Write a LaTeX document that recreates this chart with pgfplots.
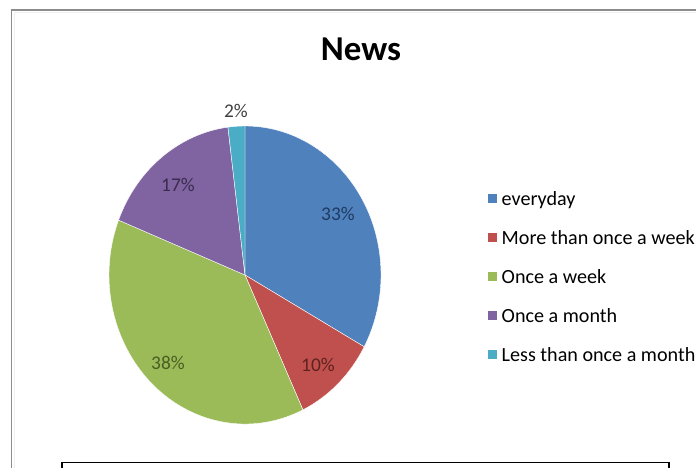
\documentclass[border=0pt]{standalone}
\usepackage{fontspec}
\setmainfont{Carlito}
\usepackage{pgfplots}
\usepackage{pgfplotstable}
\pgfplotsset{compat=1.18}

\definecolor{pie0}{HTML}{4F81BD}
\definecolor{pie1}{HTML}{C0504D}
\definecolor{pie2}{HTML}{9BBB59}
\definecolor{pie3}{HTML}{8064A2}
\definecolor{pie4}{HTML}{4BACC6}
\definecolor{lab0}{HTML}{1F3B63}
\definecolor{lab1}{HTML}{5E2220}
\definecolor{lab2}{HTML}{4A5E22}
\definecolor{lab3}{HTML}{3A2C4E}
\definecolor{lab4}{HTML}{404040}
\definecolor{framegray}{HTML}{8C8C8C}

% share (%)  and label position (canvas units = bp)
\pgfplotstableread{
idx value lx  ly
0   33    338 254
1   10    318 103
2   38    168 105
3   17    178 283
4   2     236 357
}\pietable

\begin{document}
\begin{tikzpicture}
\useasboundingbox (0,0) rectangle (696bp,468bp);
\begin{axis}[
  at={(0,0)}, anchor=south west,
  width=696bp, height=468bp, scale only axis,
  xmin=0, xmax=696, ymin=0, ymax=468,
  hide axis, clip=false,
  legend style={
    at={(axis cs:485,189)}, anchor=west,
    draw=none, fill=none,
    font=\fontsize{20.2}{23}\selectfont,
    row sep=22bp, column sep=5bp,
    nodes={inner sep=0pt, text height=13bp, text depth=4bp},
  },
  legend cell align=left,
  legend image code/.code={\fill[#1] (0bp,-2bp) rectangle (8.5bp,6.5bp);},
]
% pie wedges from the table
\pgfmathsetmacro\cum{90}
\pgfplotsforeachungrouped \i in {0,...,4}{%
  \pgfplotstablegetelem{\i}{value}\of\pietable
  \pgfmathsetmacro\startang{\cum}%
  \pgfmathsetmacro\endang{\cum-3.6*\pgfplotsretval}%
  \let\cum\endang
  \edef\temp{\noexpand\fill[fill=pie\i, draw=white, line width=0.4bp]
    (axis cs:245,193) -- (axis cs:{245+136*cos(\startang)},{193+149*sin(\startang)})
    arc[start angle=\startang, end angle=\endang, x radius=136, y radius=149] -- cycle;}%
  \temp
}
% data labels from the table
\pgfplotsforeachungrouped \i in {0,...,4}{%
  \pgfplotstablegetelem{\i}{value}\of\pietable \let\v\pgfplotsretval
  \pgfplotstablegetelem{\i}{lx}\of\pietable \let\lx\pgfplotsretval
  \pgfplotstablegetelem{\i}{ly}\of\pietable \let\ly\pgfplotsretval
  \edef\temp{\noexpand\node[text=lab\i, font=\noexpand\fontsize{19.5}{22}\noexpand\selectfont, inner sep=0pt]
    at (axis cs:\lx,\ly) {\v\noexpand\%};}%
  \temp
}
\addlegendimage{fill=pie0, draw=none}
\addlegendentry{everyday}
\addlegendimage{fill=pie1, draw=none}
\addlegendentry{More than once a week}
\addlegendimage{fill=pie2, draw=none}
\addlegendentry{Once a week}
\addlegendimage{fill=pie3, draw=none}
\addlegendentry{Once a month}
\addlegendimage{fill=pie4, draw=none}
\addlegendentry{Less than once a month}

% title
\node[font=\fontsize{35}{40}\selectfont\bfseries, inner sep=0pt] at (axis cs:361,418.5) {News};
% outer chart frame
\draw[framegray, line width=1.6bp] (axis cs:11.5,-20) |- (axis cs:720,458);
\draw[black!6, line width=1bp] (axis cs:14,-20) |- (axis cs:720,455.5);
% box below the chart
\draw[black, line width=1.5bp] (axis cs:62,-20) |- (axis cs:669,5.5) -- (axis cs:669,-20);
\end{axis}
\end{tikzpicture}
\end{document}
